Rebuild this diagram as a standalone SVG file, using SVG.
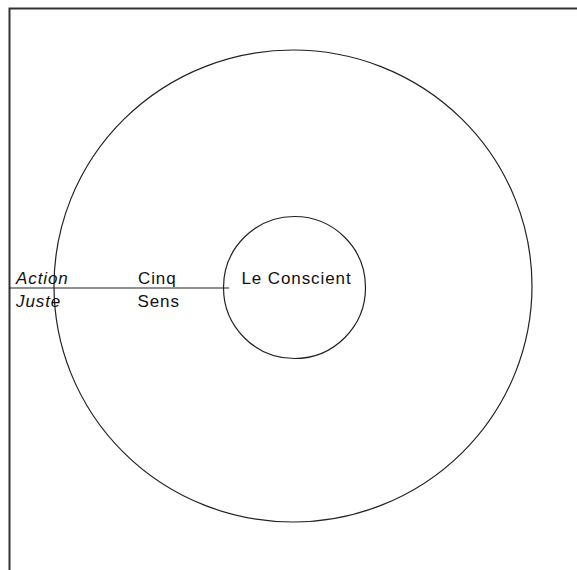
<svg xmlns="http://www.w3.org/2000/svg" width="577" height="570" viewBox="0 0 577 570">
<style>
.s{fill:none;stroke:#222;stroke-width:1.2}
.b{fill:none;stroke:#333;stroke-width:2}
text{font-family:"Liberation Sans",Arial,sans-serif;font-size:17px;letter-spacing:0.9px;fill:#111}
.i{font-style:italic}
</style>
<rect width="577" height="570" fill="#fff"/>
<path class="b" d="M9.5,570 V8.5 H577"/>
<g id="outer"><ellipse class="s" cx="293" cy="286" rx="239" ry="236"/></g>
<g id="inner"><circle class="s" cx="294.5" cy="287.5" r="71"/><text x="241.5" y="284">Le Conscient</text></g>
<g id="connectors"><line class="s" x1="9" y1="288" x2="229" y2="288"/></g>
<g id="labels">
<text class="i" x="16" y="284">Action</text>
<text class="i" x="16" y="306.5">Juste</text>
<text x="138" y="284">Cinq</text>
<text x="137.5" y="306.5">Sens</text>
</g>
</svg>
